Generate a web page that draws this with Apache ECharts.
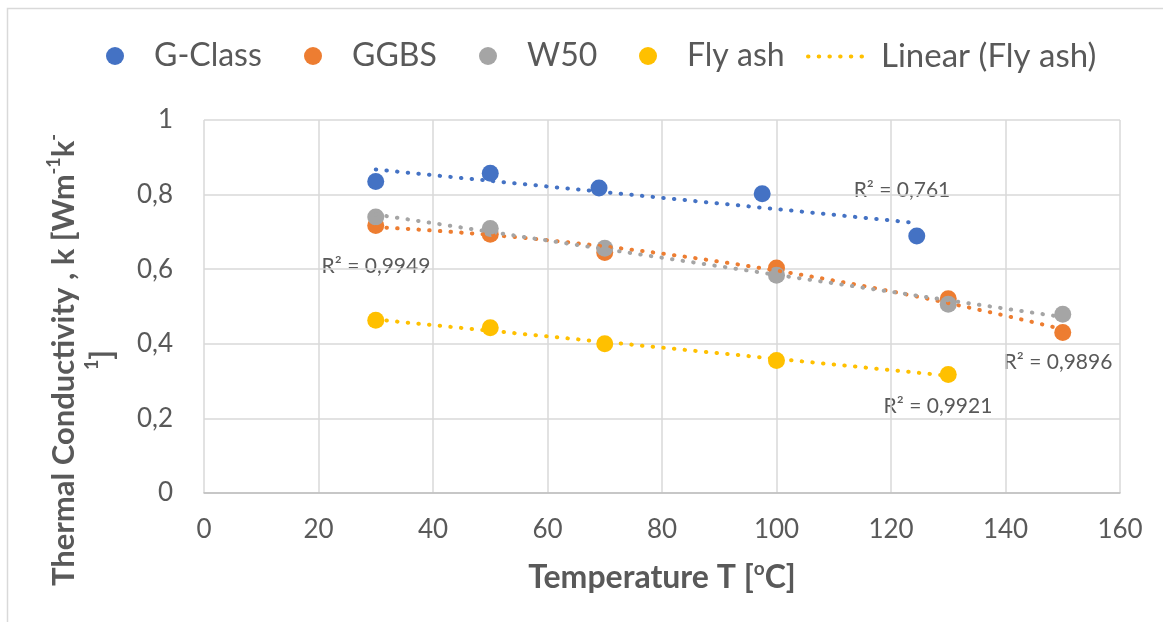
<!DOCTYPE html>
<html>
<head>
<meta charset="utf-8">
<script src="https://cdn.jsdelivr.net/npm/echarts@6/dist/echarts.min.js"></script>
<style>
html,body{margin:0;padding:0;background:#fff;}
#c{width:1163px;height:622px;}
</style>
</head>
<body>
<div id="c"></div>
<script>
// ---- data ----
const gClassX = [30, 50, 69, 97.5, 124.5];
const gClassY = [0.835, 0.857, 0.818, 0.802, 0.689];
const ggbsX = [30, 50, 70, 100, 130, 150];
const ggbsY = [0.717, 0.694, 0.645, 0.603, 0.521, 0.430];
const w50X = [30, 50, 70, 100, 130, 150];
const w50Y = [0.740, 0.709, 0.656, 0.584, 0.506, 0.479];
const flyAshX = [30, 50, 70, 100, 130];
const flyAshY = [0.463, 0.443, 0.400, 0.355, 0.318];
const seriesNames = ['G-Class', 'GGBS', 'W50', 'Fly ash', 'Linear (Fly ash)'];
const r2Labels = ['R² = 0,761', 'R² = 0,9949', 'R² = 0,9896', 'R² = 0,9921'];

const colors = ['#4472C4', '#ED7D31', '#A5A5A5', '#FFC000'];
const FONT = 'Lato';
const TXT = '#595959';

function pairs(xs, ys) { return xs.map((x, i) => [x, ys[i]]); }
// least squares polynomial fit (order 1 or 2), sampled over the data's x range
function polyTrend(xs, ys, order) {
  const m = order + 1;
  const A = [], B = [];
  for (let r = 0; r < m; r++) {
    A.push([]);
    for (let c = 0; c < m; c++) A[r].push(xs.reduce((s, x) => s + Math.pow(x, r + c), 0));
    B.push(xs.reduce((s, x, i) => s + ys[i] * Math.pow(x, r), 0));
  }
  for (let i = 0; i < m; i++) {
    let p = i;
    for (let k = i + 1; k < m; k++) if (Math.abs(A[k][i]) > Math.abs(A[p][i])) p = k;
    [A[i], A[p]] = [A[p], A[i]]; [B[i], B[p]] = [B[p], B[i]];
    for (let k = i + 1; k < m; k++) {
      const f = A[k][i] / A[i][i];
      for (let c = i; c < m; c++) A[k][c] -= f * A[i][c];
      B[k] -= f * B[i];
    }
  }
  const coef = new Array(m).fill(0);
  for (let i = m - 1; i >= 0; i--) {
    let s = B[i];
    for (let c = i + 1; c < m; c++) s -= A[i][c] * coef[c];
    coef[i] = s / A[i][i];
  }
  const x0 = Math.min(...xs), x1 = Math.max(...xs);
  const steps = order === 1 ? 1 : 60;
  const out = [];
  for (let k = 0; k <= steps; k++) {
    const x = x0 + (x1 - x0) * k / steps;
    out.push([x, coef.reduce((s, c, j) => s + c * Math.pow(x, j), 0)]);
  }
  return out;
}
const dotted = { width: 4, type: [0.5, 10.2], cap: 'round' };

function scatter(name, xs, ys, color) {
  return { name, type: 'scatter', data: pairs(xs, ys), symbol: 'circle', symbolSize: 17,
    itemStyle: { color, opacity: 1 }, z: 2 };
}
function trendLine(name, xs, ys, order, color) {
  return { name, type: 'line', data: polyTrend(xs, ys, order), symbol: 'none', showSymbol: false,
    lineStyle: Object.assign({ color }, dotted), itemStyle: { color }, z: 3, silent: true };
}

function legend(name, left, opts) {
  return Object.assign({
    data: [name], left, top: 40, orient: 'horizontal', padding: 0,
    itemWidth: 18, itemHeight: 18, icon: 'circle', selectedMode: false,
    itemStyle: { opacity: 1 },
    textStyle: { fontFamily: FONT, fontSize: 32, color: TXT, padding: [0, 0, 0, 25] }
  }, opts || {});
}

const chart = echarts.init(document.getElementById('c'), null, { renderer: 'canvas' });
chart.setOption({
  backgroundColor: '#fff',
  animation: false,
  grid: { left: 204, right: 43, top: 120, bottom: 129 },
  legend: [
    legend(seriesNames[0], 106),
    legend(seriesNames[1], 304),
    legend(seriesNames[2], 479),
    legend(seriesNames[3], 639),
    (function () {
      const l = legend(seriesNames[4], 806, {
        itemWidth: 64, itemHeight: 18,
        itemStyle: { opacity: 0 },
        lineStyle: { color: colors[3], width: 4, type: [0.5, 10.2], cap: 'round', opacity: 1 },
        textStyle: { fontFamily: FONT, fontSize: 33, color: TXT, padding: [0, 0, 0, 4] }
      });
      delete l.icon;
      return l;
    })()
  ],
  xAxis: {
    type: 'value', min: 0, max: 160, interval: 20,
    axisLine: { show: true, lineStyle: { color: '#bfbfbf', width: 1.5 } },
    axisTick: { show: false },
    splitLine: { show: true, lineStyle: { color: '#d9d9d9', width: 1.5 } },
    axisLabel: { fontFamily: FONT, fontSize: 26, color: TXT, margin: 24 }
  },
  yAxis: {
    type: 'value', min: 0, max: 1, interval: 0.2,
    axisLine: { show: false },
    axisTick: { show: false },
    splitLine: { show: true, lineStyle: { color: '#d9d9d9', width: 1.5 } },
    axisLabel: { fontFamily: FONT, fontSize: 26, color: TXT, margin: 31,
      formatter: v => String(v).replace('.', ',') }
  },
  series: [
    scatter(seriesNames[0], gClassX, gClassY, colors[0]),
    scatter(seriesNames[1], ggbsX, ggbsY, colors[1]),
    scatter(seriesNames[2], w50X, w50Y, colors[2]),
    scatter(seriesNames[3], flyAshX, flyAshY, colors[3]),
    trendLine('trend-gclass', gClassX, gClassY, 1, colors[0]),
    trendLine('trend-ggbs', ggbsX, ggbsY, 2, colors[1]),
    trendLine('trend-w50', w50X, w50Y, 2, colors[2]),
    trendLine(seriesNames[4], flyAshX, flyAshY, 1, colors[3])
  ],
  graphic: [
    { type: 'rect', silent: true, z: -10,
      shape: { x: 7.5, y: 8.5, width: 1200, height: 700 },
      style: { fill: 'none', stroke: '#d9d9d9', lineWidth: 1.5 } },
    { type: 'text', x: 83, y: 360, rotation: Math.PI / 2, silent: true,
      style: {
        text: '{b|Thermal Conductivity , k [Wm}{s|-1}{b|k}{s|-}\n{s|1}{b|]}',
        align: 'center', verticalAlign: 'middle',
        rich: {
          b: { fontFamily: FONT, fontWeight: 'bold', fontSize: 31, fill: TXT, lineHeight: 38 },
          s: { fontFamily: FONT, fontWeight: 'bold', fontSize: 18, fill: TXT, lineHeight: 20, verticalAlign: 'top' }
        }
      } },
    { type: 'text', x: 662, y: 578, silent: true,
      style: {
        text: '{b|Temperature T [}{s|o}{b|C]}',
        align: 'center', verticalAlign: 'middle',
        rich: {
          b: { fontFamily: FONT, fontWeight: 'bold', fontSize: 32, fill: TXT, lineHeight: 38 },
          s: { fontFamily: FONT, fontWeight: 'bold', fontSize: 19, fill: TXT, lineHeight: 20, verticalAlign: 'top' }
        }
      } },
    { type: 'text', x: 902, y: 190, silent: true,
      style: { text: r2Labels[0], font: '21px Lato', fill: TXT, align: 'center', verticalAlign: 'middle' } },
    { type: 'text', x: 376, y: 266, silent: true,
      style: { text: r2Labels[1], font: '21px Lato', fill: TXT, align: 'center', verticalAlign: 'middle' } },
    { type: 'text', x: 1058, y: 362, silent: true,
      style: { text: r2Labels[2], font: '21px Lato', fill: TXT, align: 'center', verticalAlign: 'middle' } },
    { type: 'text', x: 938, y: 406, silent: true,
      style: { text: r2Labels[3], font: '21px Lato', fill: TXT, align: 'center', verticalAlign: 'middle' } }
  ]
});
</script>
</body>
</html>
